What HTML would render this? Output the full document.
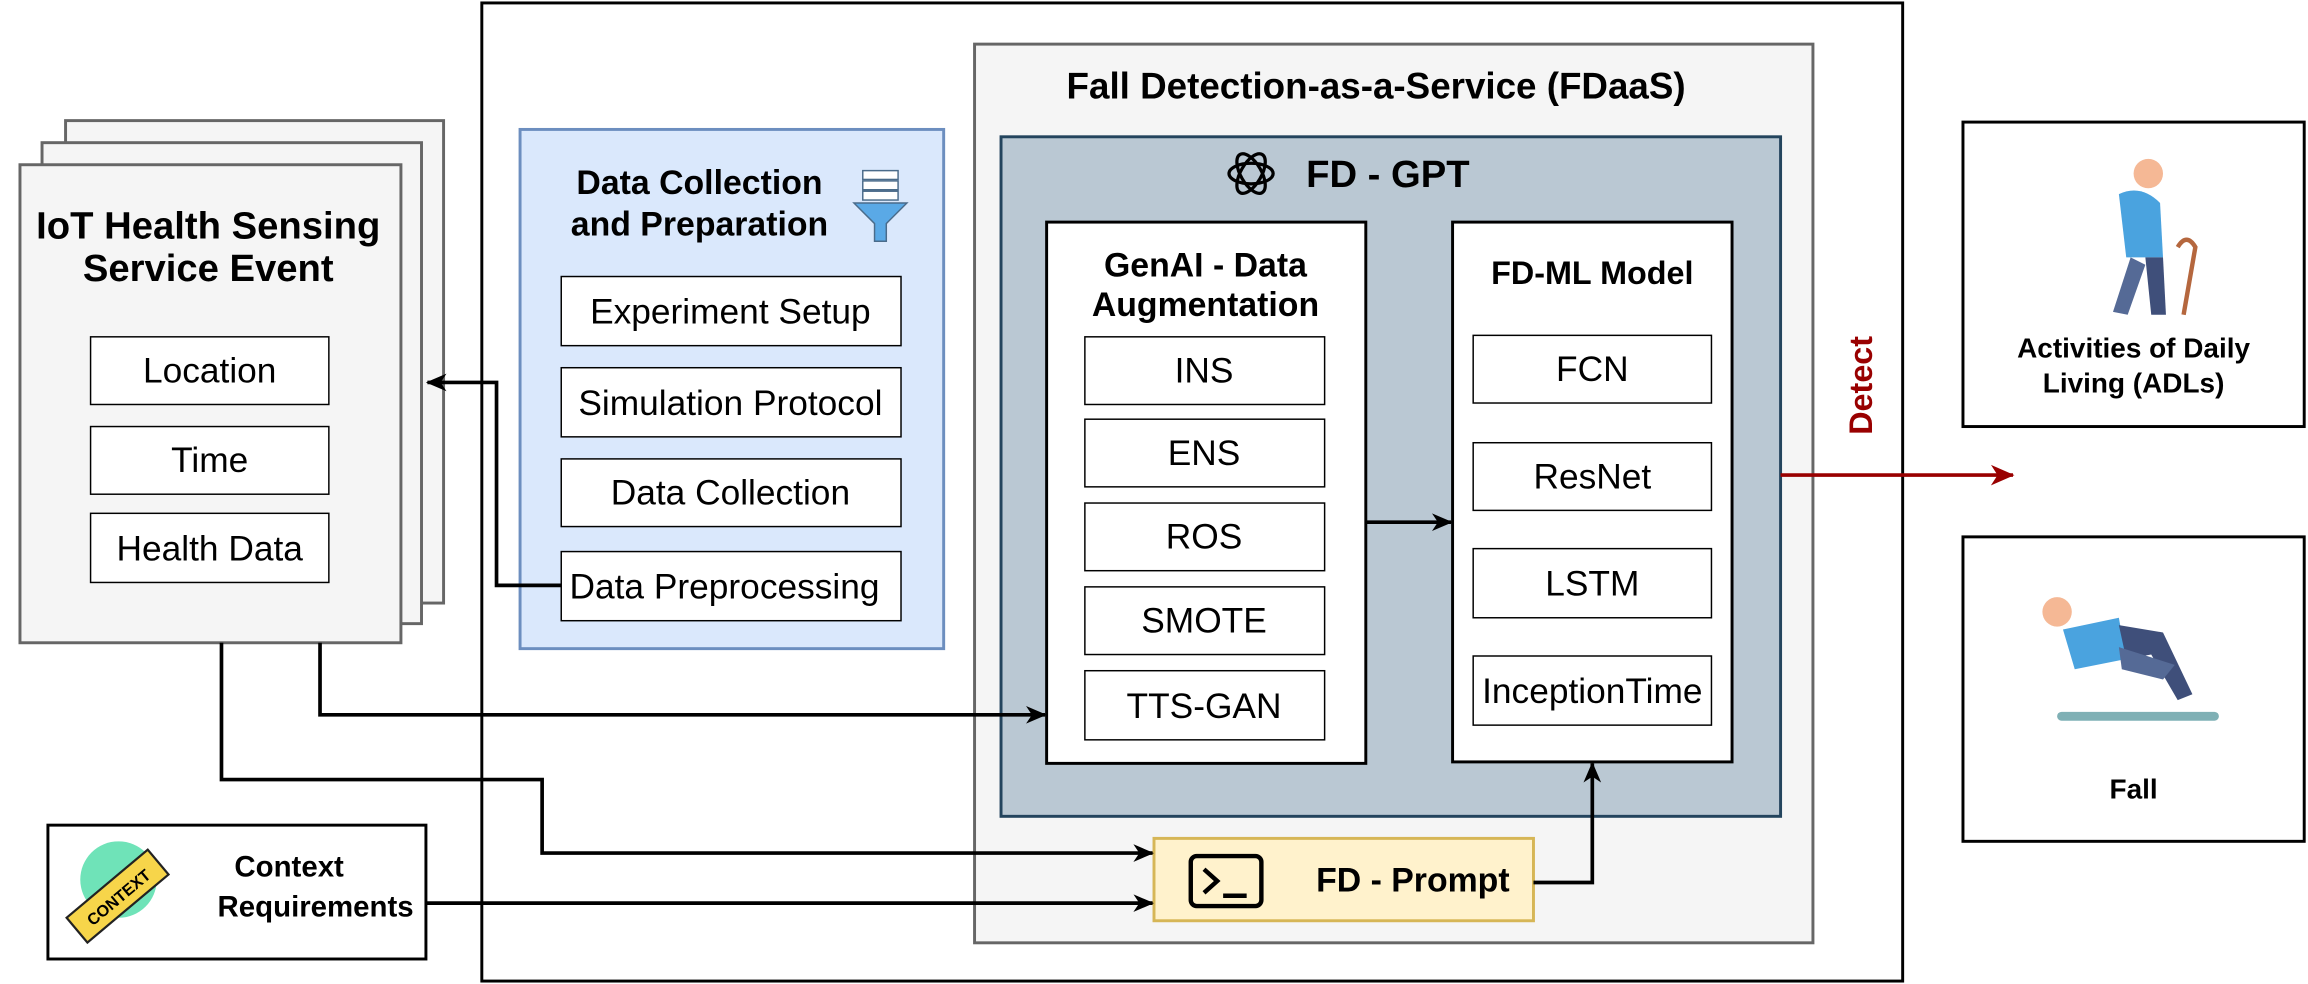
<!DOCTYPE html>
<html><head><meta charset="utf-8"><style>
html,body{margin:0;padding:0;background:#fff}
svg{display:block}
text{font-family:"Liberation Sans",Arial,sans-serif;fill:#000}
.b{font-weight:bold}
</style></head><body>
<svg width="2308" height="984" viewBox="0 0 1568 669" xmlns="http://www.w3.org/2000/svg">
<defs>
<marker id="a" markerWidth="14" markerHeight="14" refX="13" refY="7" orient="auto" markerUnits="userSpaceOnUse"><path d="M0,1 L14,7 L0,13 L4,7 z" fill="#000"/></marker>
<marker id="r" markerWidth="16" markerHeight="16" refX="15" refY="8" orient="auto" markerUnits="userSpaceOnUse"><path d="M0,1 L16,8 L0,15 L4.5,8 z" fill="#990000"/></marker>
</defs>
<rect x="327" y="2" width="966" height="665" fill="#fff" stroke="#000" stroke-width="2"/>
<rect x="44" y="82" width="257" height="328" fill="#f5f5f5" stroke="#666" stroke-width="2"/>
<rect x="28" y="97" width="258" height="327" fill="#f5f5f5" stroke="#666" stroke-width="2"/>
<rect x="13" y="112" width="259" height="325" fill="#f5f5f5" stroke="#666" stroke-width="2"/>
<text x="141" y="162" font-size="26" class="b" text-anchor="middle">IoT Health Sensing</text>
<text x="141" y="191" font-size="26" class="b" text-anchor="middle">Service Event</text>
<g font-size="24" text-anchor="middle">
<rect x="61" y="229" width="162" height="46" fill="#fff" stroke="#000"/><text x="142" y="260">Location</text>
<rect x="61" y="290" width="162" height="46" fill="#fff" stroke="#000"/><text x="142" y="321">Time</text>
<rect x="61" y="349" width="162" height="47" fill="#fff" stroke="#000"/><text x="142" y="381">Health Data</text>
</g>
<rect x="353" y="88" width="288" height="353" fill="#dae8fc" stroke="#6c8ebf" stroke-width="2"/>
<text x="475" y="132" font-size="23" class="b" text-anchor="middle">Data Collection</text>
<text x="475" y="160" font-size="23" class="b" text-anchor="middle">and Preparation</text>
<g transform="translate(598,138)">
<rect x="-12" y="-22" width="24" height="6" fill="#fff" stroke="#4a6b8a"/><rect x="-12" y="-15" width="24" height="6" fill="#fff" stroke="#4a6b8a"/><rect x="-12" y="-8" width="24" height="6" fill="#fff" stroke="#4a6b8a"/>
<path d="M-18,0 L18,0 L4,14 L4,26 L-4,26 L-4,14 z" fill="#5aa9e6" stroke="#4a6b8a"/>
</g>
<g font-size="24" text-anchor="middle">
<rect x="381" y="188" width="231" height="47" fill="#fff" stroke="#000"/><text x="496" y="220">Experiment Setup</text>
<rect x="381" y="250" width="231" height="47" fill="#fff" stroke="#000"/><text x="496" y="282">Simulation Protocol</text>
<rect x="381" y="312" width="231" height="46" fill="#fff" stroke="#000"/><text x="496" y="343">Data Collection</text>
<rect x="381" y="375" width="231" height="47" fill="#fff" stroke="#000"/><text x="492" y="407">Data Preprocessing</text>
</g>
<rect x="662" y="30" width="570" height="611" fill="#f5f5f5" stroke="#666" stroke-width="2"/>
<text x="935" y="67" font-size="25" class="b" text-anchor="middle">Fall Detection-as-a-Service (FDaaS)</text>
<rect x="680" y="93" width="530" height="462" fill="#bac8d3" stroke="#23445d" stroke-width="2"/>
<text x="943" y="127" font-size="26" class="b" text-anchor="middle">FD - GPT</text>
<g transform="translate(850,118)" fill="none" stroke="#000" stroke-width="2.2">
<ellipse rx="15" ry="7"/><ellipse rx="15" ry="7" transform="rotate(60)"/><ellipse rx="15" ry="7" transform="rotate(-60)"/>
</g>
<rect x="711" y="151" width="217" height="368" fill="#fff" stroke="#000" stroke-width="2"/>
<text x="819" y="188" font-size="23" class="b" text-anchor="middle">GenAI - Data</text>
<text x="819" y="215" font-size="23" class="b" text-anchor="middle">Augmentation</text>
<g font-size="24" text-anchor="middle">
<rect x="737" y="229" width="163" height="46" fill="#fff" stroke="#000"/><text x="818" y="260">INS</text>
<rect x="737" y="285" width="163" height="46" fill="#fff" stroke="#000"/><text x="818" y="316">ENS</text>
<rect x="737" y="342" width="163" height="46" fill="#fff" stroke="#000"/><text x="818" y="373">ROS</text>
<rect x="737" y="399" width="163" height="46" fill="#fff" stroke="#000"/><text x="818" y="430">SMOTE</text>
<rect x="737" y="456" width="163" height="47" fill="#fff" stroke="#000"/><text x="818" y="488">TTS-GAN</text>
</g>
<rect x="987" y="151" width="190" height="367" fill="#fff" stroke="#000" stroke-width="2"/>
<text x="1082" y="193" font-size="22" class="b" text-anchor="middle">FD-ML Model</text>
<g font-size="24" text-anchor="middle">
<rect x="1001" y="228" width="162" height="46" fill="#fff" stroke="#000"/><text x="1082" y="259">FCN</text>
<rect x="1001" y="301" width="162" height="46" fill="#fff" stroke="#000"/><text x="1082" y="332">ResNet</text>
<rect x="1001" y="373" width="162" height="47" fill="#fff" stroke="#000"/><text x="1082" y="405">LSTM</text>
<rect x="1001" y="446" width="162" height="47" fill="#fff" stroke="#000"/><text x="1082" y="478">InceptionTime</text>
</g>
<line x1="928" y1="355" x2="986" y2="355" stroke="#000" stroke-width="2.5" marker-end="url(#a)"/>
<text x="1272" y="262" font-size="22" class="b" text-anchor="middle" style="fill:#990000" transform="rotate(-90 1272 262)">Detect</text>
<line x1="1210" y1="323" x2="1368" y2="323" stroke="#990000" stroke-width="2.5" marker-end="url(#r)"/>
<rect x="1334" y="83" width="232" height="207" fill="#fff" stroke="#000" stroke-width="2"/>
<g>
<circle cx="1460" cy="118" r="10" fill="#f5b895"/>
<path d="M1440,132 Q1455,125 1468,138 L1470,175 L1445,175 Z" fill="#4aa3df"/>
<path d="M1448,175 L1436,212 L1446,214 L1458,180 Z" fill="#556a96"/>
<path d="M1458,175 L1462,214 L1472,214 L1470,175 Z" fill="#3f4f7a"/>
<path d="M1480,168 Q1486,158 1492,168 L1484,214" fill="none" stroke="#b5673e" stroke-width="3"/>
</g>
<text x="1450" y="243" font-size="19" class="b" text-anchor="middle">Activities of Daily</text>
<text x="1450" y="267" font-size="19" class="b" text-anchor="middle">Living (ADLs)</text>
<rect x="1334" y="365" width="232" height="207" fill="#fff" stroke="#000" stroke-width="2"/>
<g>
<rect x="1398" y="484" width="110" height="6" rx="3" fill="#7fb0b5"/>
<circle cx="1398" cy="416" r="10" fill="#f5b895"/>
<path d="M1402,428 L1440,420 L1445,448 L1410,455 Z" fill="#4aa3df"/>
<path d="M1440,425 L1470,430 L1490,472 L1480,476 L1462,445 L1445,448 Z" fill="#3f4f7a"/>
<path d="M1440,440 L1478,452 L1470,462 L1442,455 Z" fill="#556a96"/>
</g>
<text x="1450" y="543" font-size="19" class="b" text-anchor="middle">Fall</text>
<rect x="32" y="561" width="257" height="91" fill="#fff" stroke="#000" stroke-width="2"/>
<circle cx="80" cy="598" r="26" fill="#6fe3b8"/>
<g transform="rotate(-40 80 610)"><rect x="44" y="598" width="72" height="22" fill="#f7d54a" stroke="#222" stroke-width="1.5"/><text x="80" y="614" font-size="11" class="b" text-anchor="middle">CONTEXT</text></g>
<text x="196" y="596" font-size="20" class="b" text-anchor="middle">Context</text>
<text x="214" y="623" font-size="20" class="b" text-anchor="middle">Requirements</text>
<rect x="784" y="570" width="258" height="56" fill="#fff2cc" stroke="#d6b656" stroke-width="2"/>
<rect x="809" y="582" width="48" height="34" rx="4" fill="none" stroke="#000" stroke-width="3"/>
<path d="M818,591 L827,599 L818,607 M831,609 L847,609" fill="none" stroke="#000" stroke-width="3"/>
<text x="960" y="606" font-size="23" class="b" text-anchor="middle">FD - Prompt</text>
<g fill="none" stroke="#000" stroke-width="2.5">
<path d="M381,398 L337,398 L337,260 L290,260" marker-end="url(#a)"/>
<path d="M217,437 L217,486 L710,486" marker-end="url(#a)"/>
<path d="M150,437 L150,530 L368,530 L368,580 L783,580" marker-end="url(#a)"/>
<path d="M289,614 L783,614" marker-end="url(#a)"/>
<path d="M1042,600 L1082,600 L1082,519" marker-end="url(#a)"/>
</g>
</svg>
</body></html>
